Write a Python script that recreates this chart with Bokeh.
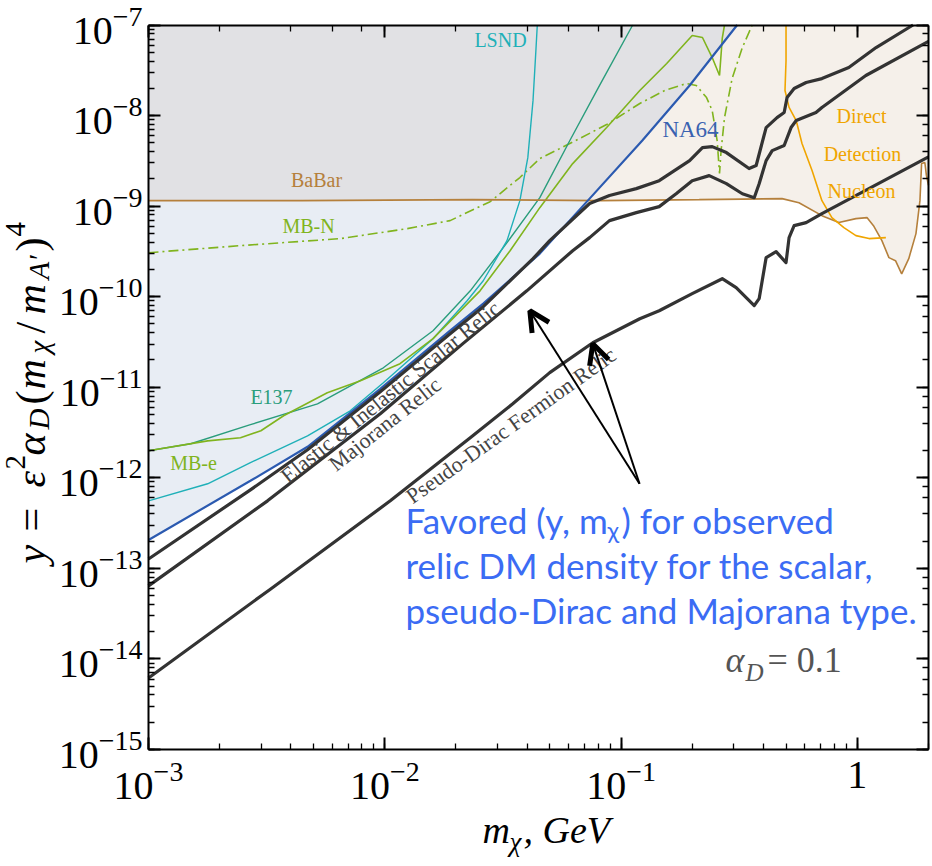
import numpy as np
from bokeh.plotting import figure
from bokeh.models import (Range1d, LogAxis, LogTicker, LogTickFormatter, CustomJSTickFormatter,
                          Label, Arrow, OpenHead)
from bokeh.embed import file_html
from bokeh.resources import INLINE

# ---------------- data ----------------
m_min, m_max = 1e-3, 2.0
y_min, y_max = 1e-15, 1e-7

na64_m = [1.0e-3, 2.70e-3, 4.71e-3, 9.57e-3, 1.89e-2, 2.61e-2, 4.53e-2, 7.23e-2, 0.123, 0.195, 0.310]
na64_y = [2.06e-13, 9.27e-13, 2.20e-12, 9.62e-12, 4.21e-11, 8.37e-11, 2.99e-10, 1.15e-9, 5.3e-9, 2.15e-8, 1.0e-7]

scalar_m = [1.0e-3, 2.70e-3, 4.71e-3, 9.57e-3, 1.89e-2, 2.61e-2, 4.24e-2, 4.99e-2, 7.36e-2, 8.93e-2,
            0.116, 0.145, 0.195, 0.221, 0.243, 0.279, 0.348, 0.373, 0.411, 0.457, 0.49, 0.504,
            0.54, 0.607, 0.708, 0.92, 1.20, 1.72]
scalar_y = [1.27e-13, 7.36e-13, 2.04e-12, 8.91e-12, 3.90e-11, 7.76e-11, 2.63e-10, 4.16e-10, 1.07e-9, 1.31e-9,
            1.56e-9, 1.91e-9, 3.18e-9, 4.43e-9, 4.54e-9, 3.90e-9, 2.60e-9, 2.81e-9, 7.37e-9, 9.5e-9, 1.08e-8, 1.58e-8,
            1.99e-8, 2.32e-8, 2.56e-8, 3.39e-8, 5.64e-8, 1.0e-7]

majorana_m = [1.0e-3, 3.19e-3, 9.57e-3, 2.14e-2, 3.99e-2, 6.24e-2, 7.36e-2, 8.93e-2, 0.116, 0.145, 0.171,
              0.200, 0.236, 0.279, 0.326, 0.366, 0.384, 0.411, 0.436, 0.49, 0.524, 0.551, 0.668, 0.708,
              1.086, 2.0]
majorana_y = [6.41e-14, 5.57e-13, 5.09e-12, 3.03e-11, 1.16e-10, 3.22e-10, 4.49e-10, 6.92e-10, 8.47e-10, 9.87e-10,
              1.37e-9, 1.91e-9, 2.17e-9, 1.77e-9, 1.37e-9, 1.24e-9, 1.77e-9, 3.18e-9, 4.10e-9, 4.67e-9, 7.37e-9,
              8.81e-9, 1.08e-8, 1.23e-8, 2.77e-8, 6.6e-8]

pdirac_m = [1.0e-3, 3.29e-3, 1.055e-2, 2.30e-2, 3.48e-2, 4.99e-2, 7.59e-2, 0.120, 0.145, 0.200, 0.268,
            0.307, 0.366, 0.384, 0.411, 0.453, 0.499, 0.514, 0.54, 0.607, 0.708, 2.0]
pdirac_y = [6.17e-15, 5.93e-14, 5.57e-13, 2.77e-12, 6.56e-12, 1.45e-11, 3.10e-11, 5.71e-11, 7.0e-11, 1.08e-10,
            1.58e-10, 1.26e-10, 7.96e-11, 9.51e-11, 2.70e-10, 3.14e-10, 2.38e-10, 4.49e-10, 6.09e-10, 6.58e-10,
            8.26e-10, 3.5e-9]

lsnd_m = [1.0e-3, 1.78e-3, 2.70e-3, 4.71e-3, 7.14e-3, 9.86e-3, 1.60e-2, 2.23e-2, 2.61e-2, 3.29e-2,
          3.73e-2, 4.03e-2, 4.24e-2, 4.36e-2, 4.42e-2]
lsnd_y = [5.57e-13, 8.59e-13, 1.47e-12, 2.91e-12, 5.49e-12, 1.12e-11, 3.44e-11, 9.03e-11, 1.50e-10, 4.16e-10,
          1.15e-9, 3.43e-9, 1.47e-8, 5.22e-8, 1.0e-7]

e137_m = [1.0e-3, 1.51e-3, 2.70e-3, 5.19e-3, 9.86e-3, 1.60e-2, 2.30e-2, 3.22e-2, 4.53e-2, 6.07e-2, 8.11e-2, 0.112]
e137_y = [1.99e-12, 2.38e-12, 3.86e-12, 6.56e-12, 1.64e-11, 4.21e-11, 1.16e-10, 3.66e-10, 1.24e-9, 5.30e-9,
          2.15e-8, 1.0e-7]

mbe_m = [1.0e-3, 1.78e-3, 2.45e-3, 2.99e-3, 3.73e-3, 5.71e-3, 7.89e-3, 1.16e-2, 1.60e-2, 2.53e-2, 3.39e-2,
         4.53e-2, 6.24e-2, 8.69e-2, 0.120, 0.156, 0.200, 0.221, 0.243, 0.261, 0.268, 0.274]
mbe_y = [1.99e-12, 2.56e-12, 2.77e-12, 3.31e-12, 4.84e-12, 8.69e-12, 1.18e-11, 1.82e-11, 3.44e-11, 1.16e-10,
         3.22e-10, 9.62e-10, 2.95e-9, 7.37e-9, 1.89e-8, 3.76e-8, 7.66e-8, 7.28e-8, 4.37e-8, 2.77e-8, 7.10e-8, 1.0e-7]

mbn_m = [1.0e-3, 2.45e-3, 6.5e-3, 1.245e-2, 1.89e-2, 2.79e-2, 3.73e-2, 4.53e-2, 6.07e-2, 8.69e-2, 0.120,
         0.153, 0.189, 0.208, 0.230, 0.243, 0.255, 0.261, 0.265, 0.274, 0.295, 0.326, 0.359]
mbn_y = [3.06e-10, 3.66e-10, 4.38e-10, 5.64e-10, 6.92e-10, 1.12e-9, 2.07e-9, 3.35e-9, 4.91e-9, 7.96e-9, 1.36e-8,
         1.89e-8, 2.26e-8, 2.15e-8, 1.58e-8, 1.14e-8, 5.30e-9, 2.29e-9, 4.10e-9, 9.50e-9, 2.56e-8, 5.64e-8, 1.0e-7]

babar_m = [1.0e-3, 4.40e-3, 2.36e-2, 8.11e-2, 0.214, 0.480, 0.566, 0.708, 0.835, 0.986, 1.10, 1.17, 1.27,
           1.36, 1.45, 1.54, 1.65, 1.77, 1.84, 1.87, 1.93, 1.96, 2.0]
babar_y = [1.15e-9, 1.15e-9, 1.18e-9, 1.15e-9, 1.18e-9, 1.21e-9, 1.09e-9, 7.85e-10, 6.58e-10, 7.28e-10, 7.46e-10,
           6.09e-10, 4.16e-10, 2.70e-10, 2.50e-10, 1.79e-10, 2.63e-10, 4.97e-10, 1.15e-9, 2.95e-9, 3.03e-9,
           2.17e-9, 1.70e-9]

dd_m = [0.499, 0.499, 0.494, 0.514, 0.551, 0.583, 0.643, 0.708, 0.780, 0.877, 0.986, 1.12, 1.32]
dd_y = [1.0e-7, 4.05e-8, 1.89e-8, 1.23e-8, 8.81e-9, 4.91e-9, 2.47e-9, 1.15e-9, 7.46e-10, 5.78e-10, 4.72e-10,
        4.38e-10, 4.49e-10]

arrow_start = (0.1197, 8.59e-13)
arrow_end_m = [4.11e-2, 7.59e-2]
arrow_end_y = [7.0e-11, 3.03e-11]

SERIF = "Liberation Serif"

# ---------------- layout: canvas == frame, axes pinned to the plot box ----------------
W, H = 930, 864
BOX_L, BOX_R, BOX_T, BOX_B = 148.0, 928.0, 24.5, 749.0
dx = (np.log10(m_max) - np.log10(m_min)) / (BOX_R - BOX_L)
dy = (np.log10(y_max) - np.log10(y_min)) / (BOX_B - BOX_T)
lx0 = np.log10(m_min) - BOX_L * dx
ly1 = np.log10(y_max) + BOX_T * dy
x0, x1 = 10 ** lx0, 10 ** (np.log10(m_max) + (W - BOX_R) * dx)
y0, y1 = 10 ** (np.log10(y_min) - (H - BOX_B) * dy), 10 ** ly1


def at(px, py):
    """canvas pixel position -> data position (for placing annotations)"""
    return 10 ** (lx0 + px * dx), 10 ** (ly1 - py * dy)


p = figure(width=W, height=H, x_axis_type="log", y_axis_type="log",
           x_range=Range1d(x0, x1), y_range=Range1d(y0, y1),
           output_backend="svg", toolbar_location=None,
           min_border_left=0, min_border_right=0, min_border_top=0, min_border_bottom=0)
p.grid.visible = False
p.outline_line_color = None
p.background_fill_color = "white"
p.border_fill_color = "white"


def style_axis(ax, show_labels):
    ax.axis_line_width = 2
    ax.axis_line_color = "black"
    ax.major_tick_in = 12
    ax.major_tick_out = 0
    ax.minor_tick_in = 6
    ax.minor_tick_out = 0
    ax.major_tick_line_width = 2
    ax.minor_tick_line_width = 1.3
    ax.major_tick_line_color = "black"
    ax.minor_tick_line_color = "black"
    ax.major_label_text_font = SERIF
    ax.major_label_text_color = "black"
    if show_labels:
        ax.major_label_text_font_size = "40px"
    else:
        ax.major_label_text_font_size = "10px"
        ax.major_label_standoff = 0


xa = p.xaxis[0]
ya = p.yaxis[0]
xa.formatter = LogTickFormatter(min_exponent=1)
style_axis(xa, True)
style_axis(ya, True)
xa.major_label_standoff = 12
ya.major_label_standoff = 6
xa.fixed_location = y_min
ya.fixed_location = m_min
xa.bounds = (m_min, m_max)
ya.bounds = (y_min, y_max)

blank = CustomJSTickFormatter(code="return ''")
top = LogAxis(ticker=LogTicker(), formatter=blank, fixed_location=y_max, bounds=(m_min, m_max))
right = LogAxis(ticker=LogTicker(), formatter=blank, fixed_location=m_max, bounds=(y_min, y_max))
style_axis(top, False)
style_axis(right, False)
p.add_layout(top, "above")
p.add_layout(right, "right")

# ---------------- filled regions ----------------
bm, by = np.array(babar_m), np.array(babar_y)
nm, ny = np.array(na64_m), np.array(na64_y)
level = by[0]
above = ny >= level * 0.999
below = ny <= level * 1.001
cross_m = nm[above][0]
left = bm < cross_m

p.patch(list(bm) + [m_max, m_min], list(by) + [y_max, y_max], fill_color="#f5f0ea", line_color=None)
p.patch(list(bm[left]) + list(nm[above]) + [m_min], list(by[left]) + list(ny[above]) + [y_max],
        fill_color="#e1e1e4", line_color=None)
p.patch(list(nm[below]) + list(bm[left][::-1]), list(ny[below]) + list(by[left][::-1]),
        fill_color="#e8edf4", line_color=None)

# ---------------- curves ----------------
GREEN = "#80b41e"
p.line(mbn_m, mbn_y, line_color=GREEN, line_width=1.6, line_dash="10 4 2 4")
p.line(e137_m, e137_y, line_color="#2a9d7c", line_width=1.4)
p.line(lsnd_m, lsnd_y, line_color="#1fb0b8", line_width=1.4)
p.line(mbe_m, mbe_y, line_color=GREEN, line_width=1.6)
p.line(babar_m, babar_y, line_color="#b5803c", line_width=1.6)
p.line(dd_m, dd_y, line_color="#f0a500", line_width=1.6)
p.line(na64_m, na64_y, line_color="#2b5ab0", line_width=2.2)
for mm, yy in [(scalar_m, scalar_y), (majorana_m, majorana_y), (pdirac_m, pdirac_y)]:
    p.line(mm, yy, line_color="#333333", line_width=3.2, line_join="round")


# ---------------- labels (anchored at the middle of the text line) ----------------
def lab(text, px, py, size, color, angle=0.0, align="left", style="normal", font=SERIF):
    x, y = at(px, py)
    p.add_layout(Label(x=x, y=y, text=text, text_font=font, text_font_size=f"{size}px",
                       text_color=color, angle=angle, angle_units="deg", text_align=align,
                       text_baseline="middle", text_font_style=style))


lab("LSND", 500, 39, 20, "#1fb0b8", align="center")
lab("BaBar", 316, 179, 20, "#b5803c", align="center")
lab("MB-N", 308, 225, 20, GREEN, align="center")
lab("E137", 271, 396, 20, "#2a9d7c", align="center")
lab("MB-e", 193, 462, 20, GREEN, align="center")
lab("NA64", 690, 129, 23, "#3a62b0", align="center")
lab("Direct", 861, 115, 20, "#f0a500", align="center")
lab("Detection", 862, 153, 20, "#f0a500", align="center")
lab("Nucleon", 861, 190, 20, "#f0a500", align="center")

lab("Elastic & Inelastic Scalar Relic", 283, 478, 22, "#444444", angle=39)
lab("Majorana Relic", 331, 466, 22, "#444444", angle=38.5)
lab("Pseudo-Dirac Fermion Relic", 408, 498, 22, "#444444", angle=35.5)

# favored-region note
BLUE_TXT = "#3b6cf4"
lab("Favored (y, m", 405, 519, 35, BLUE_TXT, font="Lato")
lab("χ", 607, 529, 24, BLUE_TXT, font="Lato")
lab(") for observed", 621, 519, 35, BLUE_TXT, font="Lato")
lab("relic DM density for the scalar,", 405, 564, 35, BLUE_TXT, font="Lato")
lab("pseudo-Dirac and Majorana type.", 405, 609, 35, BLUE_TXT, font="Lato")

# alpha_D = 0.1
lab("α", 725, 659, 36, "#555555", style="italic")
lab("D", 745, 672, 25, "#555555", style="italic")
lab("= 0.1", 767, 659, 36, "#555555")

# x-axis title
lab("m", 482, 829, 38, "black", style="italic")
lab("χ", 509, 841, 27, "black", style="italic")
lab(", GeV", 523, 829, 38, "black", style="italic")

# y-axis title (rotated, reads bottom to top)
BX = 30
lab("y", BX, 563, 42, "black", angle=90, style="italic")
lab("=", BX, 531, 42, "black", angle=90)
lab("ε", BX, 487, 42, "black", angle=90, style="italic")
lab("2", BX - 15, 469, 29, "black", angle=90)
lab("α", BX, 455, 42, "black", angle=90, style="italic")
lab("D", BX + 8, 429, 29, "black", angle=90, style="italic")
lab("(", BX, 404, 42, "black", angle=90)
lab("m", BX, 389, 42, "black", angle=90, style="italic")
lab("χ", BX + 8, 353, 29, "black", angle=90, style="italic")
lab("/", BX, 333, 42, "black", angle=90)
lab("m", BX, 314, 42, "black", angle=90, style="italic")
lab("A′", BX + 8, 279, 29, "black", angle=90, style="italic")
lab(")", BX, 251, 42, "black", angle=90)
lab("4", BX - 15, 236, 29, "black", angle=90)

# arrows
for xe, ye in zip(arrow_end_m, arrow_end_y):
    p.add_layout(Arrow(end=OpenHead(size=20, line_width=5, line_color="black"),
                       x_start=arrow_start[0], y_start=arrow_start[1], x_end=xe, y_end=ye,
                       line_width=2, line_color="black"))

open("out.html", "w").write(file_html(p, INLINE))
